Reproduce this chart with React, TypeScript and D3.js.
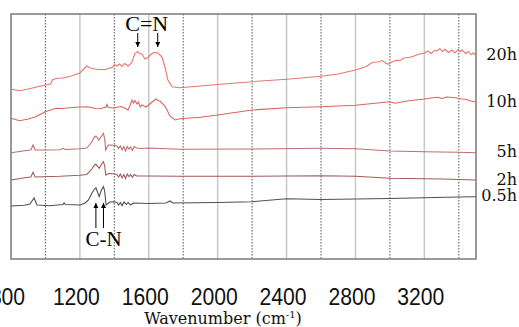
import React, { useRef, useEffect } from 'react';
import * as d3 from 'd3';

// IR spectra after different times. Values are absorbance in arbitrary, offset units.
const spectrum20h: [number, number][] = [
  [800, 1.697], [850, 1.683], [900, 1.7], [1000, 1.74], [1030, 1.75], [1040, 1.79], [1060, 1.805],
  [1100, 1.81], [1150, 1.83], [1200, 1.86], [1240, 1.93], [1260, 1.91], [1300, 1.895], [1350, 1.895],
  [1390, 1.92], [1400, 1.943], [1415, 1.93], [1430, 1.95], [1445, 1.925], [1460, 1.955], [1480, 1.93],
  [1500, 1.96], [1520, 2.057], [1530, 2.065], [1537, 2.075], [1545, 2.055], [1560, 2.05], [1578, 2.0],
  [1595, 2.015], [1615, 2.05], [1630, 2.065], [1650, 2.063], [1665, 2.04], [1677, 2.02], [1694, 1.92],
  [1711, 1.79], [1735, 1.723], [1780, 1.713], [1900, 1.73], [2000, 1.745], [2200, 1.773], [2400, 1.797],
  [2600, 1.827], [2700, 1.85], [2800, 1.89], [2860, 1.923], [2900, 1.967], [2930, 1.97], [2955, 1.985],
  [2975, 1.96], [2990, 1.947], [3010, 1.97], [3035, 1.987], [3060, 1.985], [3080, 2.01], [3117, 2.017],
  [3140, 2.03], [3170, 2.05], [3200, 2.057], [3220, 2.08], [3240, 2.055], [3260, 2.085], [3275, 2.083],
  [3290, 2.105], [3305, 2.075], [3320, 2.097], [3340, 2.065], [3360, 2.09], [3378, 2.06], [3395, 2.095],
  [3410, 2.075], [3420, 2.09], [3440, 2.055], [3455, 2.075], [3470, 2.045], [3485, 2.06], [3500, 2.037],
];

const spectrum10h: [number, number][] = [
  [800, 1.407], [850, 1.383], [900, 1.4], [940, 1.42], [1000, 1.473], [1060, 1.507], [1100, 1.505],
  [1170, 1.517], [1247, 1.523], [1290, 1.505], [1317, 1.503], [1352, 1.52], [1357, 1.545], [1365, 1.515],
  [1398, 1.51], [1420, 1.52], [1440, 1.525], [1460, 1.51], [1479, 1.49], [1490, 1.53], [1503, 1.59],
  [1512, 1.56], [1520, 1.585], [1532, 1.55], [1540, 1.57], [1550, 1.52], [1560, 1.54], [1584, 1.52],
  [1600, 1.54], [1619, 1.57], [1642, 1.6], [1653, 1.585], [1665, 1.58], [1694, 1.53], [1723, 1.43],
  [1752, 1.39], [1781, 1.403], [1900, 1.417], [2000, 1.44], [2200, 1.49], [2400, 1.513], [2600, 1.523],
  [2800, 1.537], [2900, 1.555], [3000, 1.573], [3030, 1.557], [3100, 1.58], [3200, 1.6], [3240, 1.61],
  [3280, 1.617], [3300, 1.605], [3330, 1.62], [3380, 1.613], [3420, 1.6], [3440, 1.597], [3470, 1.58],
  [3500, 1.57],
];

const spectrum5h: [number, number][] = [
  [800, 1.063], [880, 1.083], [915, 1.09], [928, 1.14], [940, 1.09], [1000, 1.09], [1085, 1.093],
  [1102, 1.107], [1115, 1.095], [1200, 1.103], [1240, 1.11], [1265, 1.16], [1285, 1.22], [1293, 1.23],
  [1310, 1.19], [1330, 1.24], [1337, 1.257], [1344, 1.2], [1350, 1.09], [1365, 1.14], [1398, 1.137],
  [1415, 1.13], [1425, 1.105], [1435, 1.13], [1445, 1.09], [1455, 1.125], [1465, 1.08], [1475, 1.125],
  [1485, 1.1], [1495, 1.12], [1505, 1.085], [1515, 1.125], [1530, 1.11], [1560, 1.105], [1600, 1.11],
  [1781, 1.097], [2200, 1.1], [2600, 1.107], [2800, 1.103], [3000, 1.08], [3200, 1.073], [3400, 1.067],
  [3500, 1.063],
];

const spectrum2h: [number, number][] = [
  [800, 0.79], [880, 0.813], [915, 0.82], [928, 0.867], [940, 0.82], [1085, 0.827], [1200, 0.837],
  [1240, 0.845], [1265, 0.89], [1285, 0.94], [1293, 0.947], [1312, 0.907], [1330, 0.96], [1337, 0.973],
  [1344, 0.93], [1350, 0.84], [1365, 0.855], [1398, 0.853], [1415, 0.845], [1425, 0.82], [1435, 0.85],
  [1445, 0.81], [1455, 0.845], [1465, 0.805], [1475, 0.85], [1485, 0.825], [1495, 0.845], [1505, 0.815],
  [1515, 0.845], [1530, 0.83], [1600, 0.83], [1781, 0.827], [2200, 0.827], [2600, 0.833], [2800, 0.827],
  [3000, 0.807], [3300, 0.8], [3500, 0.79],
];

const spectrum05h: [number, number][] = [
  [800, 0.53], [880, 0.537], [910, 0.55], [934, 0.61], [951, 0.54], [1026, 0.533], [1102, 0.545],
  [1108, 0.563], [1115, 0.545], [1201, 0.54], [1230, 0.56], [1250, 0.59], [1270, 0.66], [1285, 0.7],
  [1293, 0.713], [1312, 0.623], [1325, 0.69], [1337, 0.723], [1344, 0.68], [1352, 0.54], [1375, 0.57],
  [1398, 0.573], [1415, 0.565], [1425, 0.54], [1435, 0.565], [1445, 0.535], [1456, 0.57], [1470, 0.545],
  [1480, 0.565], [1495, 0.54], [1510, 0.56], [1600, 0.555], [1700, 0.56], [1723, 0.58], [1740, 0.56],
  [2000, 0.565], [2200, 0.573], [2400, 0.603], [2600, 0.595], [2800, 0.6], [3000, 0.605], [3200, 0.613],
  [3400, 0.62], [3500, 0.623],
];

const seriesNames = ['20h', '10h', '5h', '2h', '0.5h'];
const seriesData = [spectrum20h, spectrum10h, spectrum5h, spectrum2h, spectrum05h];
const seriesColors = ['#e8766c', '#d8665e', '#bd6e6e', '#a25a5a', '#505050'];

const tickLabels = [800, 1200, 1600, 2000, 2400, 2800, 3200];
const gridLines = [1000, 1200, 1400, 1600, 1800, 2000, 2200, 2400, 2600, 2800, 3000, 3200, 3400];
const cnDoublePeaks = [1536, 1652];
const cnSinglePeaks = [1293, 1337];

export default function App() {
  const svgRef = useRef<SVGSVGElement>(null);

  useEffect(() => {
    const svg = d3.select(svgRef.current);
    svg.selectAll('*').remove();

    const W = 519, H = 327;
    const margin = { top: 14, right: 43, bottom: 68, left: 11 };
    const x = d3.scaleLinear().domain([800, 3500]).range([margin.left, W - margin.right]);
    const y = d3.scaleLinear().domain([0, 2.45]).range([H - margin.bottom, margin.top]);
    const top = margin.top, bottom = H - margin.bottom;

    const defs = svg.append('defs');
    defs.append('marker')
      .attr('id', 'arrowHead')
      .attr('viewBox', '0 0 10 10')
      .attr('refX', 10).attr('refY', 5)
      .attr('markerWidth', 5).attr('markerHeight', 6)
      .attr('markerUnits', 'userSpaceOnUse')
      .attr('orient', 'auto')
      .append('path')
      .attr('d', 'M0,0 L10,5 L0,10 Z')
      .attr('fill', '#000');

    // grid: labelled hundreds solid light, the others dotted
    gridLines.forEach(v => {
      const labelled = tickLabels.includes(v);
      svg.append('line')
        .attr('x1', x(v)).attr('x2', x(v))
        .attr('y1', top).attr('y2', bottom)
        .attr('stroke', labelled ? '#c8c8c8' : '#707070')
        .attr('stroke-width', labelled ? 1.5 : 1.2)
        .attr('stroke-dasharray', labelled ? null : '1.5,1.5');
    });

    // frame
    svg.append('rect')
      .attr('x', x(800)).attr('y', top)
      .attr('width', x(3500) - x(800)).attr('height', bottom - top)
      .attr('fill', 'none')
      .attr('stroke', '#7a7a7a')
      .attr('stroke-width', 1.5);

    const line = d3.line<[number, number]>()
      .x(d => x(d[0]))
      .y(d => y(d[1]));

    seriesData.forEach((data, i) => {
      svg.append('path')
        .datum(data)
        .attr('d', line)
        .attr('fill', 'none')
        .attr('stroke', seriesColors[i])
        .attr('stroke-width', 1.1);

      const last = data[data.length - 1];
      svg.append('text')
        .attr('x', 517)
        .attr('y', y(last[1]) + 4.5)
        .attr('text-anchor', 'end')
        .attr('font-family', 'DejaVu Serif, serif')
        .attr('font-size', 16)
        .attr('fill', '#111')
        .text(seriesNames[i]);
    });

    // x tick labels
    tickLabels.forEach(v => {
      svg.append('text')
        .attr('x', x(v) - 3.5)
        .attr('y', 305)
        .attr('text-anchor', 'middle')
        .attr('font-family', 'Liberation Sans, Arial, sans-serif')
        .attr('font-size', 23)
        .attr('textLength', String(v).length * 11.75)
        .attr('lengthAdjust', 'spacingAndGlyphs')
        .attr('fill', '#111')
        .text(v);
    });

    const title = svg.append('text')
      .attr('x', 223)
      .attr('y', 324)
      .attr('text-anchor', 'middle')
      .attr('font-family', 'DejaVu Serif, serif')
      .attr('font-size', 16)
      .attr('fill', '#111');
    title.append('tspan').text('Wavenumber (cm');
    title.append('tspan').attr('dy', -6).attr('font-size', 10).text('-1');
    title.append('tspan').attr('dy', 6).text(')');

    // C=N arrows and label
    cnDoublePeaks.forEach(v => {
      svg.append('line')
        .attr('x1', x(v)).attr('x2', x(v))
        .attr('y1', 33).attr('y2', 47)
        .attr('stroke', '#000').attr('stroke-width', 1)
        .attr('marker-end', 'url(#arrowHead)');
    });
    svg.append('text')
      .attr('x', (x(cnDoublePeaks[0]) + x(cnDoublePeaks[1])) / 2 - 1)
      .attr('y', 30.5)
      .attr('text-anchor', 'middle')
      .attr('font-family', 'Liberation Serif, serif')
      .attr('font-size', 22)
      .attr('fill', '#000')
      .text('C=N');

    // C-N arrows and label
    cnSinglePeaks.forEach(v => {
      svg.append('line')
        .attr('x1', x(v)).attr('x2', x(v))
        .attr('y1', 228).attr('y2', 203)
        .attr('stroke', '#000').attr('stroke-width', 1)
        .attr('marker-end', 'url(#arrowHead)');
    });
    svg.append('text')
      .attr('x', (x(cnSinglePeaks[0]) + x(cnSinglePeaks[1])) / 2 + 4)
      .attr('y', 246)
      .attr('text-anchor', 'middle')
      .attr('font-family', 'Liberation Serif, serif')
      .attr('font-size', 21)
      .attr('fill', '#000')
      .text('C-N');
  }, []);

  return (
    <div style={{ position: 'absolute', left: 0, top: 0, background: '#fff' }}>
      <svg ref={svgRef} width={519} height={327} style={{ display: 'block' }} />
    </div>
  );
}
